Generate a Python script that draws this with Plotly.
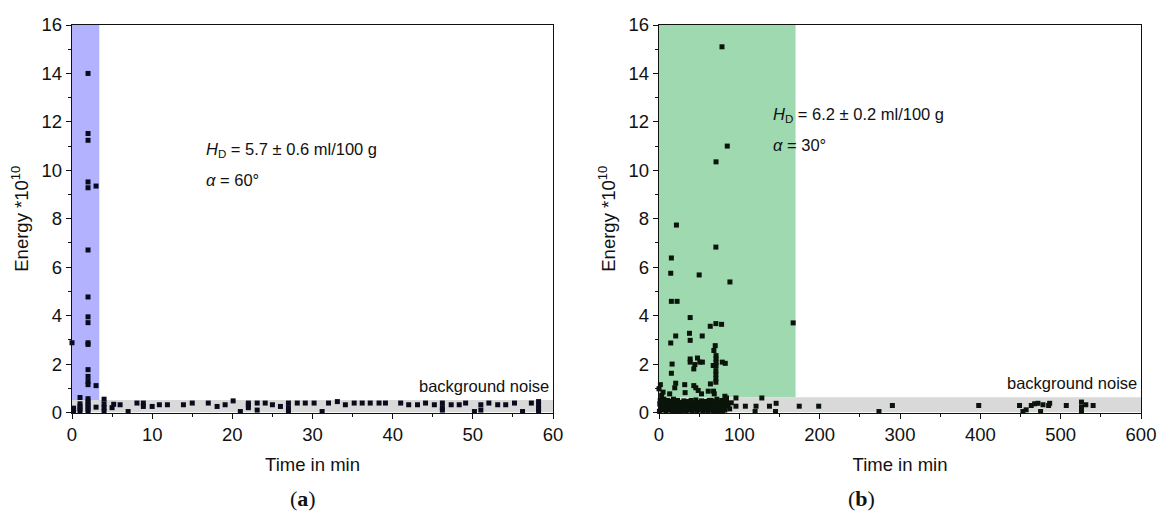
import plotly.graph_objects as go
from plotly.subplots import make_subplots

# ---- panel (a): alpha = 60 deg, time in min ----
a_burst_t = [2.0, 2.0, 2.0, 2.0, 2.0, 3.0, 2.0, 2.0, 2.0, 2.0, 2.0, 2.0, 0.0,
             2.0, 2.0, 2.0, 2.0, 3.0, 1.0, 2.0]
a_burst_e = [14.0, 11.52, 11.24, 9.52, 9.28, 9.35, 6.71, 4.77, 3.95, 3.71, 2.88, 2.81, 2.88,
             1.77, 1.49, 1.29, 1.15, 1.11, 0.62, 0.57]

a_noise_t = [0.2, 0.2, 1.0, 1.0, 1.0, 1.0, 2.0, 2.0, 2.0, 2.0, 2.0, 3.0, 4.0, 4.0, 4.0, 4.0,
             5.0, 5.2, 6.0, 7.0, 8.1, 8.9, 8.9, 10.0, 10.9, 11.9, 13.9, 15.0, 17.0, 18.1,
             19.1, 20.1, 21.0, 22.0, 22.0, 22.0, 23.1, 23.1, 24.1, 25.0, 26.0, 27.0, 27.0,
             27.0, 28.1, 29.1, 30.2, 31.2, 32.0, 33.1, 34.1, 35.2, 36.2, 37.2, 38.3, 39.1,
             41.0, 42.0, 43.1, 44.1, 45.2, 46.2, 46.2, 46.2, 47.3, 48.3, 49.1, 50.2, 51.0,
             51.0, 52.0, 53.1, 54.1, 55.2, 56.2, 57.3, 58.2, 58.2, 58.2, 58.2]
a_noise_e = [0.05, 0.18, 0.05, 0.15, 0.25, 0.36, 0.05, 0.15, 0.25, 0.35, 0.45, 0.22, 0.05, 0.2,
             0.35, 0.55, 0.2, 0.34, 0.32, 0.04, 0.39, 0.39, 0.25, 0.25, 0.32, 0.32, 0.32, 0.39,
             0.39, 0.25, 0.32, 0.48, 0.04, 0.39, 0.32, 0.2, 0.39, 0.1, 0.39, 0.32, 0.25, 0.39,
             0.2, 0.05, 0.39, 0.39, 0.39, 0.04, 0.39, 0.45, 0.32, 0.39, 0.39, 0.39, 0.39, 0.39,
             0.39, 0.32, 0.32, 0.39, 0.32, 0.39, 0.2, 0.1, 0.32, 0.32, 0.39, 0.04, 0.32, 0.1,
             0.39, 0.32, 0.32, 0.39, 0.04, 0.39, 0.45, 0.3, 0.15, 0.05]

# ---- panel (b): alpha = 30 deg ----
b_burst_t = [78.4, 85.0, 71.0, 21.7, 70.8, 15.4, 14.6, 50.0, 88.3, 15.4, 22.5, 38.8, 70.8,
             77.9, 63.8, 167.0, 37.9, 20.8, 53.8, 38.8, 14.6, 70.0, 68.3, 71.0, 71.0, 71.0,
             71.0, 38.8, 47.9, 38.8, 50.8, 54.0, 44.6, 43.3, 16.3, 15.4, 78.8, 82.5, 67.5,
             70.8, 70.8, 70.8, 70.8, 64.0, 20.8, 32.0, 1.7, 0.0, 19.6, 43.3, 45.8, 48.8, 52.9,
             32.5, 61.3, 67.9, 68.8, 5.0, 13.3, 3.3, 82.0, 84.0, 95.8, 128.0]
b_burst_e = [15.1, 11.0, 10.35, 7.74, 6.83, 6.38, 5.75, 5.68, 5.39, 4.59, 4.59, 3.92, 3.67,
             3.64, 3.56, 3.70, 3.27, 3.16, 3.16, 2.98, 2.87, 2.76, 2.56, 2.35, 2.21, 2.08,
             1.94, 2.21, 2.25, 2.08, 2.08, 2.08, 1.98, 1.80, 2.0, 1.62, 2.08, 2.03, 1.94, 1.73,
             1.57, 1.39, 1.25, 1.18, 1.21, 1.15, 1.15, 0.98, 1.02, 1.11, 1.02, 0.91, 0.77,
             0.82, 0.88, 0.88, 0.77, 0.84, 0.77, 0.70, 0.67, 0.60, 0.60, 0.60]

b_noise_t = [0.5, 1, 1.5, 2, 3, 4, 5, 6, 7, 8, 9, 10, 11, 12, 13, 14, 15, 16, 17, 18, 19, 20,
             21, 22, 23, 24, 25, 26, 27, 28, 29, 30, 31, 32, 33, 34, 35, 36, 37, 38, 39, 40,
             41, 42, 43, 44, 45, 46, 47, 48, 49, 50, 51, 52, 53, 54, 55, 56, 57, 58, 59, 60,
             61, 62, 63, 64, 65, 66, 67, 68, 69, 70, 71, 72, 73, 74, 75, 76, 77, 78, 79, 80,
             81, 82, 83, 84, 86, 88, 90, 2.5, 4.5, 6.5, 8.5, 12.5, 17.5, 22.5, 27.5, 33.5,
             37.5, 42.5, 47.5, 52.5, 57.5, 62.5, 67.5, 72.5, 77.5, 82.5,
             95.8, 107.5, 120.8, 137.5, 145.8, 174.6, 198.8, 119.6, 145.0,
             273.8, 290.5, 398.0, 448.8, 453.0, 457.0, 463.4, 467.6, 471.7, 475.0, 478.0,
             486.3, 485.0, 507.0, 525.9, 525.9, 525.9, 531.3, 540.4]
b_noise_e = [0.05, 0.35, 0.5, 0.2, 0.45, 0.1, 0.3, 0.55, 0.15, 0.4, 0.05, 0.25, 0.5, 0.12,
             0.35, 0.2, 0.45, 0.05, 0.3, 0.55, 0.18, 0.4, 0.08, 0.28, 0.5, 0.15, 0.35, 0.05,
             0.42, 0.22, 0.3, 0.1, 0.48, 0.2, 0.38, 0.05, 0.28, 0.45, 0.12, 0.33, 0.22, 0.5,
             0.08, 0.3, 0.4, 0.15, 0.25, 0.52, 0.05, 0.35, 0.2, 0.42, 0.1, 0.3, 0.48, 0.18,
             0.05, 0.38, 0.25, 0.12, 0.45, 0.3, 0.05, 0.2, 0.4, 0.1, 0.5, 0.25, 0.35, 0.05,
             0.45, 0.15, 0.3, 0.55, 0.08, 0.22, 0.4, 0.12, 0.32, 0.5, 0.05, 0.2, 0.38, 0.1,
             0.28, 0.45, 0.3, 0.15, 0.4, 0.3, 0.4, 0.2, 0.15, 0.45, 0.1, 0.15, 0.05, 0.15,
             0.45, 0.2, 0.3, 0.15, 0.45, 0.5, 0.15, 0.25, 0.1, 0.5,
             0.26, 0.26, 0.26, 0.26, 0.38, 0.26, 0.26, 0.04, 0.04,
             0.04, 0.29, 0.29, 0.29, 0.04, 0.11, 0.29, 0.36, 0.38, 0.04, 0.32,
             0.38, 0.29, 0.29, 0.43, 0.22, 0.04, 0.32, 0.29]

a_band_t, a_band_e = 3.4, 0.52
b_band_t, b_band_e = 170, 0.63

W, H = 1159, 518


def px_x(p):
    return p / W


def px_y(p):
    return 1 - p / H


fig = make_subplots(rows=1, cols=2)

mk = dict(symbol="square", size=5, color="#0a0a1e")
fig.add_trace(go.Scatter(x=a_noise_t + a_burst_t, y=a_noise_e + a_burst_e, mode="markers",
                         marker=mk, cliponaxis=False), row=1, col=1)
fig.add_trace(go.Scatter(x=b_noise_t + b_burst_t, y=b_noise_e + b_burst_e, mode="markers",
                         marker=dict(mk, color="#0a140a"), cliponaxis=False), row=1, col=2)

# shaded bands
fig.add_shape(type="rect", xref="x", yref="y", x0=0, x1=a_band_t, y0=a_band_e, y1=16,
              fillcolor="#b2b2ff", line_width=0, layer="below")
fig.add_shape(type="rect", xref="x", yref="y", x0=0, x1=60, y0=0, y1=a_band_e,
              fillcolor="#d9d9d9", line_width=0, layer="below")
fig.add_shape(type="rect", xref="x2", yref="y2", x0=0, x1=b_band_t, y0=b_band_e, y1=16,
              fillcolor="#9fd9b0", line_width=0, layer="below")
fig.add_shape(type="rect", xref="x2", yref="y2", x0=0, x1=600, y0=0, y1=b_band_e,
              fillcolor="#d9d9d9", line_width=0, layer="below")

font = dict(family="Liberation Sans, Arial", size=18.5, color="#111")
ax = dict(showgrid=False, zeroline=False, showline=True, linecolor="#111", linewidth=1.4,
          mirror=True, ticks="outside", ticklen=5, tickcolor="#111", tickfont=font,
          automargin=False)

fig.update_xaxes(**ax, title=dict(text="Time in min", font=font, standoff=14))
fig.update_yaxes(**ax, range=[0, 16], dtick=2,
                 minor=dict(ticks="outside", ticklen=3, dtick=1, tickcolor="#111"),
                 title=dict(text="Energy *10<sup>10</sup>", font=font, standoff=8))
fig.update_xaxes(range=[0, 60], dtick=10, domain=[px_x(72), px_x(553)],
                 minor=dict(ticks="outside", ticklen=3, dtick=5, tickcolor="#111"), row=1, col=1)
fig.update_xaxes(range=[0, 600], dtick=100, domain=[px_x(659), px_x(1141)],
                 minor=dict(ticks="outside", ticklen=3, dtick=50, tickcolor="#111"), row=1, col=2)
fig.update_yaxes(domain=[px_y(412.5), px_y(25)])

ann_font = dict(family="Liberation Sans, Arial", size=16.5, color="#111")
notes = [
    ("x", "y", 16.5, 10.85, "<i>H</i><sub>D</sub> = 5.7 ± 0.6 ml/100 g"),
    ("x", "y", 16.5, 9.6, "<i>α</i> = 60°"),
    ("x2", "y2", 139.6, 12.27, "<i>H</i><sub>D</sub> = 6.2 ± 0.2 ml/100 g"),
    ("x2", "y2", 139.6, 11.03, "<i>α</i> = 30°"),
]
for xr, yr, xv, yv, txt in notes:
    fig.add_annotation(xref=xr, yref=yr, x=xv, y=yv, text=txt, showarrow=False,
                       xanchor="left", yanchor="middle", font=ann_font)
fig.add_annotation(xref="x", yref="y", x=59.7, y=1.1, text="background noise", showarrow=False,
                   xanchor="right", yanchor="middle", font=ann_font)
fig.add_annotation(xref="x2", yref="y2", x=597, y=1.2, text="background noise", showarrow=False,
                   xanchor="right", yanchor="middle", font=ann_font)

lab_font = dict(family="Liberation Serif, serif", size=22, color="#111")
fig.add_annotation(xref="paper", yref="paper", x=px_x(287.5), y=px_y(498), text="(<b>a</b>)",
                   showarrow=False, font=lab_font, yanchor="middle")
fig.add_annotation(xref="paper", yref="paper", x=px_x(877), y=px_y(498), text="(<b>b</b>)",
                   showarrow=False, font=lab_font, yanchor="middle")

fig.update_layout(width=W, height=H, margin=dict(l=0, r=0, t=0, b=0),
                  plot_bgcolor="white", paper_bgcolor="white", showlegend=False)

# drop the default page margin so the figure sits at the window's top-left corner
fig.write_html("out.html", config={"displayModeBar": False},
               post_script="document.body.style.margin='0';")
